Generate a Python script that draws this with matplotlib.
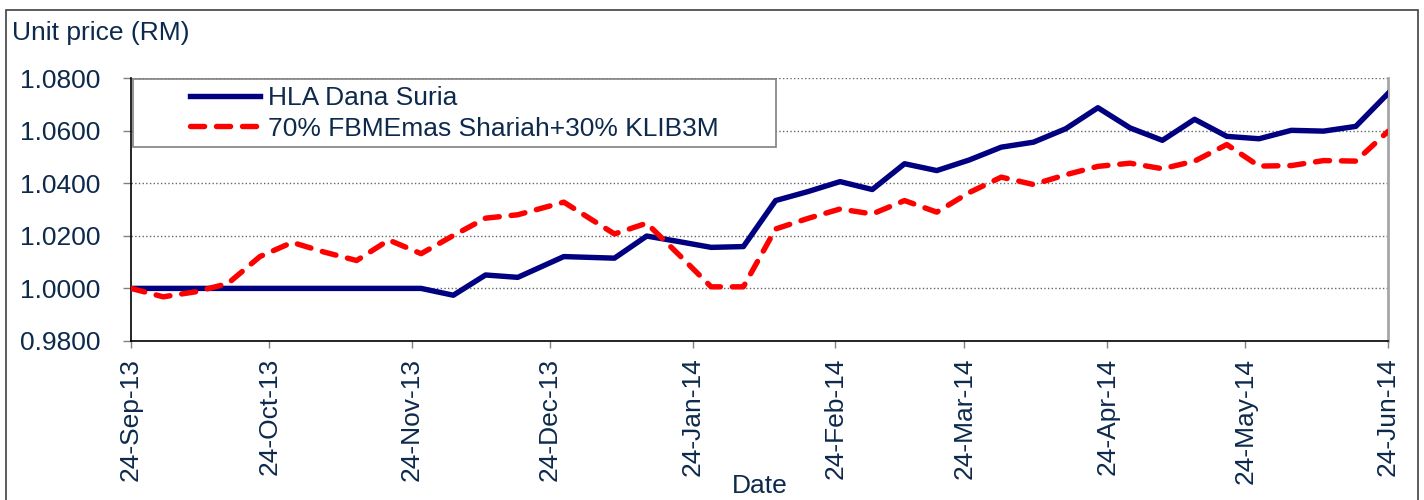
import pandas as pd
import matplotlib
matplotlib.use('Agg')
import matplotlib.pyplot as plt
import matplotlib.dates as mdates
from matplotlib.patches import Rectangle
from matplotlib.lines import Line2D

plt.rcParams['font.family'] = ['Liberation Sans', 'DejaVu Sans']

TXT = '#0d2a4d'

dates = ['2013-09-24', '2013-10-01', '2013-10-08', '2013-10-15', '2013-10-22',
         '2013-10-29', '2013-11-05', '2013-11-12', '2013-11-19', '2013-11-26',
         '2013-12-03', '2013-12-10', '2013-12-17', '2013-12-27', '2014-01-07',
         '2014-01-14', '2014-01-21', '2014-01-28', '2014-02-04', '2014-02-11',
         '2014-02-18', '2014-02-25', '2014-03-04', '2014-03-11', '2014-03-18',
         '2014-03-25', '2014-04-01', '2014-04-08', '2014-04-15', '2014-04-22',
         '2014-04-29', '2014-05-06', '2014-05-13', '2014-05-20', '2014-05-27',
         '2014-06-03', '2014-06-10', '2014-06-17', '2014-06-24']

dana_suria = [1.0000, 1.0000, 1.0000, 1.0000, 1.0000, 1.0000, 1.0000, 1.0000,
              1.0000, 1.0000, 0.9974, 1.0051, 1.0042, 1.0121, 1.0115, 1.0199,
              1.0178, 1.0156, 1.0159, 1.0334, 1.0368, 1.0406, 1.0376, 1.0474,
              1.0448, 1.0488, 1.0537, 1.0556, 1.0607, 1.0687, 1.0610, 1.0563,
              1.0643, 1.0578, 1.0569, 1.0601, 1.0598, 1.0616, 1.0741]

benchmark = [1.0000, 0.9968, 0.9987, 1.0018, 1.0121, 1.0175, 1.0138, 1.0106,
             1.0184, 1.0132, 1.0201, 1.0267, 1.0280, 1.0328, 1.0207, 1.0248,
             1.0128, 1.0006, 1.0006, 1.0226, 1.0266, 1.0302, 1.0283, 1.0334,
             1.0290, 1.0364, 1.0423, 1.0395, 1.0432, 1.0464, 1.0476, 1.0455,
             1.0484, 1.0547, 1.0465, 1.0467, 1.0486, 1.0484, 1.0597]

labels = ['HLA Dana Suria', '70% FBMEmas Shariah+30% KLIB3M']
y_ticks = [0.98, 1.00, 1.02, 1.04, 1.06, 1.08]

x = pd.to_datetime(dates)

fig = plt.figure(figsize=(14.24, 5), dpi=100)
W, H = 1424, 500
ax = fig.add_axes([131 / W, 1 - 341 / H, (1388 - 131) / W, (341 - 78) / H])

LW = 3.9
DASH = (0, (2.6, 2.2))
ax.plot(x, dana_suria, color='#000080', lw=LW, solid_joinstyle='round', zorder=3)
ax.plot(x, benchmark, color='#ff0000', lw=LW, linestyle=DASH,
        dash_capstyle='round', dash_joinstyle='round', zorder=3)

ax.set_xlim(x[0], x[-1])
ax.set_ylim(0.98, 1.08)
ax.set_yticks(y_ticks)
ax.yaxis.set_major_formatter(plt.FormatStrFormatter('%.4f'))
ax.xaxis.set_major_locator(mdates.MonthLocator(bymonthday=24))
ax.xaxis.set_major_formatter(mdates.DateFormatter('%d-%b-%y'))

ax.yaxis.grid(True, linestyle=':', color='#666666', lw=1.0, zorder=1)
ax.tick_params(axis='y', direction='out', length=6, width=1, color='#808080',
               pad=16, labelsize=19, labelcolor=TXT)
ax.tick_params(axis='x', direction='out', length=5, width=1, color='#808080',
               pad=7, labelsize=19, labelcolor=TXT, labelrotation=90)

for s in ['left', 'bottom']:
    ax.spines[s].set_color('black')
    ax.spines[s].set_linewidth(1.2)
ax.spines['top'].set_visible(False)
ax.spines['right'].set_color('#a6a6a6')
ax.spines['right'].set_linewidth(2)

# legend box, drawn inside the axes so the legend sits on top of it
box = Rectangle((133 / W, 1 - 147 / H), (776 - 133) / W, (147 - 79) / H,
                transform=fig.transFigure, facecolor='white',
                edgecolor='#808080', lw=1.2, zorder=4, clip_on=False)
ax.add_patch(box)
handles = [Line2D([], [], color='#000080', lw=LW),
           Line2D([], [], color='#ff0000', lw=LW, linestyle=DASH,
                  dash_capstyle='round')]
leg = ax.legend(handles, labels, loc='upper left',
                bbox_to_anchor=((190 - 131) / 1257, (341 - 86) / 263),
                frameon=False, fontsize=19, handlelength=2.65, handletextpad=0.3,
                borderpad=0, borderaxespad=0, labelspacing=0.25)
leg.set_zorder(5)
for t in leg.get_texts():
    t.set_color(TXT)

fig.text(12 / W, 1 - 33 / H, 'Unit price (RM)', fontsize=19, color=TXT,
         ha='left', va='center')
fig.text(760 / W, 1 - 486 / H, 'Date', fontsize=19, color=TXT,
         ha='center', va='center')

# outer chart border
fig.add_artist(Rectangle((6 / W, -0.01), (1418 - 6) / W, 1 - 10 / H + 0.01,
                         transform=fig.transFigure, fill=False,
                         edgecolor='#404040', lw=1.2))

fig.savefig('out.png', dpi=100)
